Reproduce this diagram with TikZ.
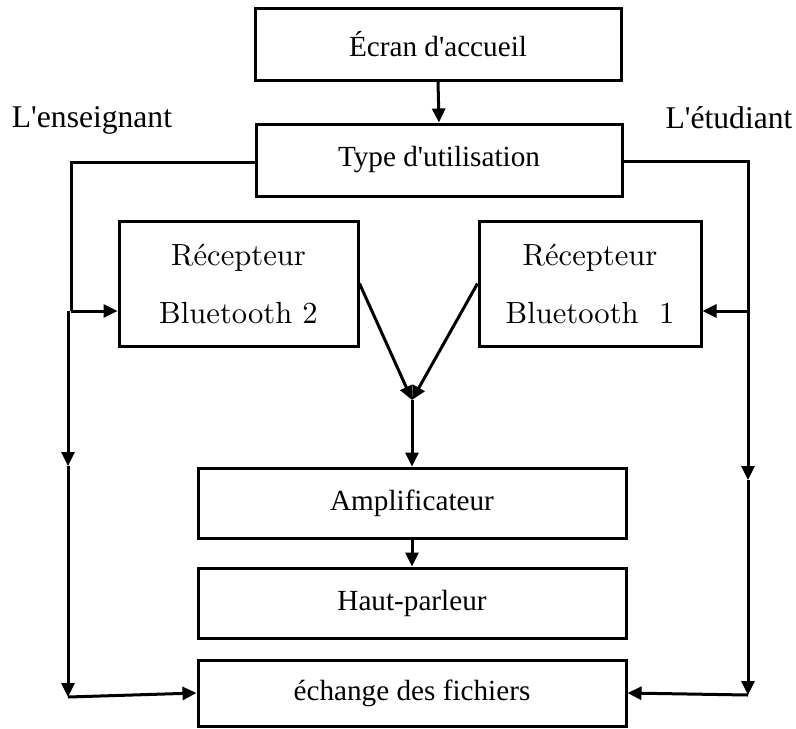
\documentclass[tikz,border=0pt]{standalone}
\usepackage{fontspec}
\setmainfont{Liberation Serif}
\newfontfamily\lmfont{lmroman10-regular.otf}
\usetikzlibrary{arrows.meta}
\newcommand{\ap}{\textquotesingle}
\begin{document}
\begin{tikzpicture}[x=0.5pt,y=-0.5pt,
  line width=1.5pt,
  box/.style={draw,rectangle,inner sep=0pt,font=\fontsize{14.6}{17}\selectfont},
  recbox/.style={draw,rectangle,inner sep=0pt,align=center,
    font=\lmfont\fontsize{15.3}{29}\selectfont},
  lbl/.style={inner sep=0pt,font=\fontsize{15.8}{18}\selectfont},
  arr/.style={-{Triangle[length=7pt,width=6.5pt]}}]
\useasboundingbox (0,0) rectangle (796,728);

% boxes
\node[box,minimum width=183pt,minimum height=36pt] (ecran) at (438,44) {Écran d\ap accueil};
\node[box,minimum width=183pt,minimum height=36pt] (type) at (439,160) {Type d\ap utilisation};
\node[recbox,minimum width=119.5pt,minimum height=62.5pt] (rec2) at (238.5,283.5) {Récepteur\\Bluetooth 2};
\node[recbox,minimum width=111pt,minimum height=62.5pt] (rec1) at (590,283.5) {Récepteur\\Bluetooth\ \ 1};
\node[box,minimum width=214pt,minimum height=35pt] (ampli) at (412,503) {Amplificateur};
\node[box,minimum width=214pt,minimum height=35pt] (haut) at (412,603) {Haut-parleur};
\node[box,minimum width=214pt,minimum height=33pt] (echange) at (412,693) {échange des fichiers};

% side labels
\node[lbl] (ens) at (92,120) {L\ap enseignant};
\node[lbl] (etu) at (729,118) {L\ap étudiant};

% junction points
\coordinate (jl) at (71,311);
\coordinate (l1) at (68,311);
\coordinate (lm) at (68,466);
\coordinate (l2) at (68,697);
\coordinate (jr) at (748,311);
\coordinate (rm) at (748,480);
\coordinate (r2) at (748,695);
\coordinate (vt) at (412,400);

% main flow
\draw[arr] (ecran.south) -- (type.north);
\draw[arr] (rec2.east) -- (vt);
\draw[arr] (rec1.west) -- (vt);
\draw[arr] (vt) -- (ampli.north);
\draw[arr] (ampli.south) -- (haut.north);

% teacher branch
\draw (type.west |- 0,162) -| (jl);
\draw[arr] (jl) -- (jl -| rec2.west);
\draw[arr] (l1) -- (lm);
\draw[arr] (lm) -- (l2);
\draw[arr] (l2) -- (echange.west);

% student branch
\draw (type.east |- 0,161) -| (jr);
\draw[arr] (jr) -- (jr -| rec1.east);
\draw[arr] (jr) -- (rm);
\draw[arr] (rm) -- (r2);
\draw[arr] (r2) -- (echange.east);
\end{tikzpicture}
\end{document}
